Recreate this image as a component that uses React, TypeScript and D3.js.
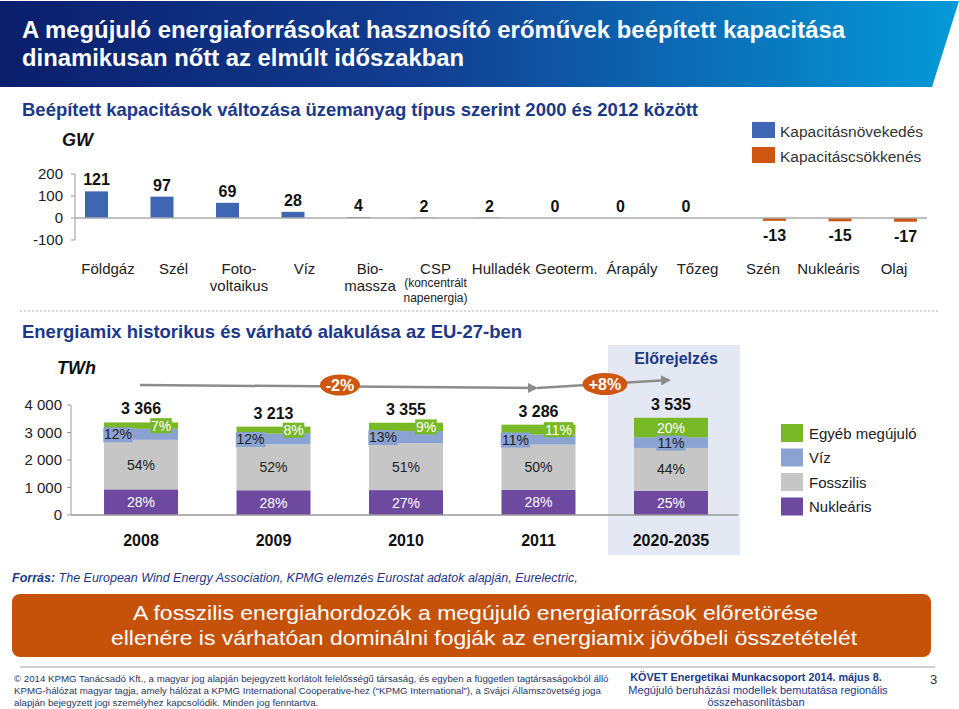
import React from 'react';
import * as d3 from 'd3';

// ---------- DATA ----------
const capCategories = ['Földgáz', 'Szél', 'Fotovoltaikus', 'Víz', 'Biomassza', 'CSP', 'Hulladék', 'Geoterm.', 'Árapály', 'Tőzeg', 'Szén', 'Nukleáris', 'Olaj'];
const capLabelLines = [['Földgáz'], ['Szél'], ['Foto-', 'voltaikus'], ['Víz'], ['Bio-', 'massza'], ['CSP'], ['Hulladék'], ['Geoterm.'], ['Árapály'], ['Tőzeg'], ['Szén'], ['Nukleáris'], ['Olaj']];
const cspNote = ['(koncentrált', 'napenergia)'];
const capValues = [121, 97, 69, 28, 4, 2, 2, 0, 0, 0, -13, -15, -17];
const capTicks = [200, 100, 0, -100];
const capSeries = ['Kapacitásnövekedés', 'Kapacitáscsökkenés'];

const mixYears = ['2008', '2009', '2010', '2011', '2020-2035'];
const mixTotals = [3366, 3213, 3355, 3286, 3535];
const nuclearPct = [28, 28, 27, 28, 25];
const fossilPct = [54, 52, 51, 50, 44];
const hydroPct = [12, 12, 13, 11, 11];
const otherPct = [7, 8, 9, 11, 20];
const mixTicks = [0, 1000, 2000, 3000, 4000];
const mixSeries = ['Egyéb megújuló', 'Víz', 'Fosszilis', 'Nukleáris'];
const forecastYear = '2020-2035';
const trendLabels = ['-2%', '+8%'];

// ---------- STYLE ----------
const FONT = '"Liberation Sans", Arial, sans-serif';
const NAVY = '#1b3889';
const BLUE = '#3f66b3';
const ORANGE = '#cf560e';
const C_OTHER = '#79b928';
const C_HYDRO = '#8aa3d2';
const C_FOSSIL = '#c6c6c6';
const C_NUC = '#6d4a9f';
const segColors = [C_NUC, C_FOSSIL, C_HYDRO, C_OTHER];

const locale = d3.formatLocale({ decimal: ',', thousands: ' ', grouping: [3], currency: ['', ''] });
const fmt = locale.format(',');

export default function App() {
  // ---- top chart scales
  const x0 = d3.scaleBand<string>().domain(capCategories).range([75.25, 926.75]).padding(0);
  const x1 = d3.scaleBand<string>().domain(capSeries).range([0, 46]).padding(0);
  const yTop = d3.scaleLinear().domain([-100, 200]).range([240, 174]);
  const innerOff = (x0.bandwidth() - 46) / 2;

  // ---- bottom chart scales
  const xb = d3.scaleBand<string>().domain(mixYears).range([75, 737]).paddingInner(0.4415).paddingOuter(0.219);
  const yb = d3.scaleLinear().domain([0, 4000]).range([515, 405]);

  const stacks = mixYears.map((yr, i) => {
    const pcts = [nuclearPct[i], fossilPct[i], hydroPct[i], otherPct[i]];
    const sum = d3.sum(pcts);
    let acc = 0;
    return pcts.map((p, k) => {
      const v0 = acc;
      acc += (mixTotals[i] * p) / sum;
      return { k, p, v0, v1: acc };
    });
  });

  const headerGrad = 'hdrGrad';
  const baselineB = yb(0);

  return (
    <svg width={959} height={709} style={{ position: 'absolute', left: 0, top: 0, fontFamily: FONT }}>
      <defs>
        <linearGradient id={headerGrad} x1="0" x2="1" y1="0" y2="0">
          <stop offset="0%" stopColor="#0b1e6c" />
          <stop offset="45%" stopColor="#123f92" />
          <stop offset="100%" stopColor="#049ad8" />
        </linearGradient>
        <marker id="arr" viewBox="0 0 10 10" refX="8" refY="5" markerWidth="4" markerHeight="4" orient="auto">
          <path d="M0,0 L10,5 L0,10 z" fill="#8c8c8c" />
        </marker>
      </defs>
      <rect x={0} y={0} width={959} height={709} fill="#fff" />

      {/* header */}
      <path d="M0,1 L959,1 L932,87 L0,87 Z" fill={`url(#${headerGrad})`} />
      <text x={22} y={38} fill="#fff" fontSize={23} fontWeight="bold" textLength={823} lengthAdjust="spacingAndGlyphs">A megújuló energiaforrásokat hasznosító erőművek beépített kapacitása</text>
      <text x={22} y={66} fill="#fff" fontSize={23} fontWeight="bold" textLength={442} lengthAdjust="spacingAndGlyphs">dinamikusan nőtt az elmúlt időszakban</text>

      {/* ---------- TOP CHART ---------- */}
      <text x={22} y={116} fill={NAVY} fontSize={18.5} fontWeight="bold" textLength={676} lengthAdjust="spacingAndGlyphs">Beépített kapacitások változása üzemanyag típus szerint 2000 és 2012 között</text>
      <text x={62} y={146} fill="#111" fontSize={18} fontWeight="bold" fontStyle="italic">GW</text>

      {/* legend */}
      {capSeries.map((s, i) => (
        <g key={s}>
          <rect x={752} y={122 + i * 25} width={23} height={16} fill={i === 0 ? BLUE : ORANGE} />
          <text x={780} y={137 + i * 25} fontSize={15.5} fill="#333">{s}</text>
        </g>
      ))}

      {/* y axis */}
      <line x1={75} x2={75} y1={yTop(200)} y2={yTop(-100)} stroke="#999" strokeWidth={1} />
      {capTicks.map((t) => (
        <g key={t}>
          <line x1={71} x2={75} y1={yTop(t)} y2={yTop(t)} stroke="#999" />
          <text x={63} y={yTop(t) + 5} textAnchor="end" fontSize={15} fill="#222">{t}</text>
        </g>
      ))}

      {/* bars */}
      {capCategories.map((c, i) => {
        const v = capValues[i];
        const series = v < 0 ? capSeries[1] : capSeries[0];
        const bx = (x0(c) as number) + innerOff + (x1(series) as number);
        const bw = x1.bandwidth();
        const yTopBar = yTop(Math.max(v, 0));
        const yBot = yTop(Math.min(v, 0));
        const cx = bx + bw / 2;
        return (
          <g key={c}>
            <rect x={bx} y={yTopBar} width={bw} height={Math.max(0, yBot - yTopBar)} fill={v < 0 ? ORANGE : BLUE} />
            <text x={cx} y={v < 0 ? yBot + 20 : yTopBar - 6} textAnchor="middle" fontSize={16} fontWeight="bold" fill="#111">{v}</text>
          </g>
        );
      })}
      <line x1={75} x2={927} y1={yTop(0)} y2={yTop(0)} stroke="#aaa" strokeWidth={1.5} />

      {/* category labels */}
      {capCategories.map((c, i) => {
        const cx = (x0(c) as number) + x0.bandwidth() / 2;
        return (
          <g key={c}>
            {capLabelLines[i].map((ln, j) => (
              <text key={j} x={cx} y={274 + j * 17} textAnchor="middle" fontSize={15} fill="#222">{ln}</text>
            ))}
            {c === 'CSP' && cspNote.map((ln, j) => (
              <text key={'n' + j} x={cx} y={287 + j * 15} textAnchor="middle" fontSize={12} fill="#222">{ln}</text>
            ))}
          </g>
        );
      })}

      {/* separator */}
      <line x1={20} x2={940} y1={311} y2={311} stroke="#b0b0b0" strokeWidth={1} strokeDasharray="2,2" />

      {/* ---------- BOTTOM CHART ---------- */}
      <text x={22} y={338} fill={NAVY} fontSize={18.5} fontWeight="bold" textLength={500} lengthAdjust="spacingAndGlyphs">Energiamix historikus és várható alakulása az EU-27-ben</text>
      <text x={57} y={374} fill="#111" fontSize={18} fontWeight="bold" fontStyle="italic">TWh</text>

      {/* forecast panel */}
      <rect x={608} y={345} width={132} height={210} fill="#e3e8f2" />
      <text x={676} y={364} textAnchor="middle" fontSize={16} fontWeight="bold" fill={NAVY}>Előrejelzés</text>

      {/* axis */}
      <line x1={71} x2={71} y1={yb(4000)} y2={baselineB} stroke="#999" />
      {mixTicks.map((t) => (
        <g key={t}>
          <line x1={67} x2={71} y1={yb(t)} y2={yb(t)} stroke="#999" />
          <text x={62} y={yb(t) + 5} textAnchor="end" fontSize={15} fill="#222">{fmt(t)}</text>
        </g>
      ))}

      {/* stacked bars */}
      {mixYears.map((yr, i) => {
        const bx = xb(yr) as number;
        const bw = xb.bandwidth();
        const cx = bx + bw / 2;
        const isF = yr === forecastYear;
        const segs = stacks[i];
        return (
          <g key={yr}>
            {segs.map((s) => (
              <rect key={s.k} x={bx} y={yb(s.v1)} width={bw} height={yb(s.v0) - yb(s.v1)} fill={segColors[s.k]} />
            ))}
            {segs.map((s) => {
              const my = (yb(s.v0) + yb(s.v1)) / 2;
              const label = `${s.p}%`;
              if (s.k <= 1) {
                return (
                  <text key={'t' + s.k} x={cx} y={my + 5} textAnchor="middle" fontSize={14} fill={s.k === 0 ? '#fff' : '#222'}>{label}</text>
                );
              }
              const tw = label.length * 7.8 + 2;
              let lx = cx;
              if (!isF) lx = s.k === 2 ? bx + 14 : bx + bw - 17;
              return (
                <g key={'t' + s.k}>
                  <rect x={lx - tw / 2 - 2} y={my - 7.5 + (s.k === 2 ? 0.5 : 0)} width={tw + 4} height={15} fill={segColors[s.k]} />
                  <text x={lx} y={my + 5} textAnchor="middle" fontSize={14} fill={s.k === 3 ? '#fff' : '#222'}>{label}</text>
                </g>
              );
            })}
            <text x={cx} y={yb(mixTotals[i]) - 8} textAnchor="middle" fontSize={16} fontWeight="bold" fill="#111">{fmt(mixTotals[i])}</text>
            <text x={cx} y={546} textAnchor="middle" fontSize={16} fontWeight="bold" fill="#111">{yr}</text>
          </g>
        );
      })}
      <line x1={71} x2={738} y1={baselineB} y2={baselineB} stroke="#999" strokeWidth={1.5} />

      {/* trend arrows */}
      <line x1={140} y1={385} x2={536} y2={388} stroke="#8c8c8c" strokeWidth={2.5} markerEnd="url(#arr)" />
      <line x1={537} y1={388} x2={669} y2={380} stroke="#8c8c8c" strokeWidth={2.5} markerEnd="url(#arr)" />
      <ellipse cx={340} cy={385} rx={20} ry={10.5} fill={ORANGE} />
      <text x={340} y={391} textAnchor="middle" fontSize={16} fontWeight="bold" fill="#fff">{trendLabels[0]}</text>
      <ellipse cx={605} cy={384} rx={22.5} ry={11} fill={ORANGE} />
      <text x={605} y={390} textAnchor="middle" fontSize={16} fontWeight="bold" fill="#fff">{trendLabels[1]}</text>

      {/* legend */}
      {mixSeries.map((s, i) => (
        <g key={s}>
          <rect x={781} y={424 + i * 24.5} width={22} height={18} fill={[C_OTHER, C_HYDRO, C_FOSSIL, C_NUC][i]} />
          <text x={809} y={438.5 + i * 24.5} fontSize={15} fill="#222">{s}</text>
        </g>
      ))}

      {/* source */}
      <text x={12} y={582} fontSize={12.5} fontStyle="italic" fill={NAVY}>
        <tspan fontWeight="bold">Forrás:</tspan>
        <tspan> The European Wind Energy Association, KPMG elemzés Eurostat adatok alapján, Eurelectric,</tspan>
      </text>

      {/* conclusion box */}
      <rect x={12} y={594} width={919} height={63} rx={8} fill="#c65209" />
      <text x={133} y={620} fontSize={21} fill="#fff" textLength={685} lengthAdjust="spacingAndGlyphs">A fosszilis energiahordozók a megújuló energiaforrások előretörése</text>
      <text x={111} y={645} fontSize={21} fill="#fff" textLength={746} lengthAdjust="spacingAndGlyphs">ellenére is várhatóan dominálni fogják az energiamix jövőbeli összetételét</text>

      {/* footer */}
      <line x1={20} x2={935} y1={667} y2={667} stroke="#c0c0c0" strokeWidth={1.5} />
      <text x={14} y={682} fontSize={9.7} fill="#2b3563">© 2014 KPMG Tanácsadó Kft., a magyar jog alapján bejegyzett korlátolt felelősségű társaság, és egyben a független tagtársaságokból álló</text>
      <text x={14} y={694} fontSize={9.7} fill="#2b3563">KPMG-hálózat magyar tagja, amely hálózat a KPMG International Cooperative-hez (“KPMG International”), a Svájci Államszövetség joga</text>
      <text x={14} y={706} fontSize={9.7} fill="#2b3563">alapján bejegyzett jogi személyhez kapcsolódik. Minden jog fenntartva.</text>
      <text x={756} y={681} textAnchor="middle" fontSize={10.8} fontWeight="bold" fill={NAVY}>KÖVET Energetikai Munkacsoport 2014. május 8.</text>
      <text x={758} y={694} textAnchor="middle" fontSize={11} fill={NAVY}>Megújuló beruházási modellek  bemutatása regionális</text>
      <text x={756} y={706} textAnchor="middle" fontSize={11} fill={NAVY}>összehasonlításban</text>
      <text x={930} y={684} fontSize={13} fill="#333">3</text>
    </svg>
  );
}
